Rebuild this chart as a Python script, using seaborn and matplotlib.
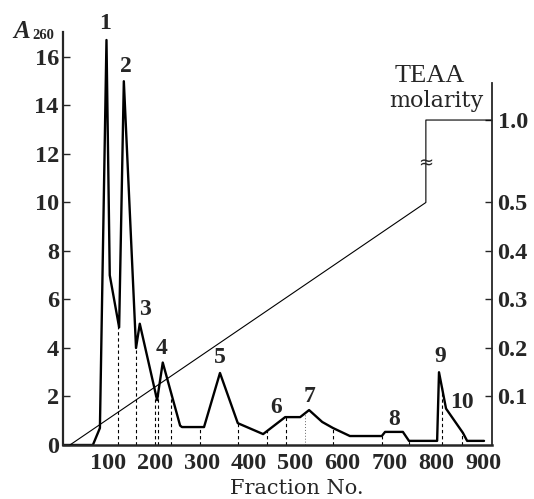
import numpy as np
import matplotlib
matplotlib.use("Agg")
import matplotlib.pyplot as plt
import seaborn as sns

# A260 elution profile
fraction = [5, 68, 83, 97, 104, 124, 134, 160, 168, 205, 217, 254, 258, 305, 339,
            377, 431, 478, 510, 529, 557, 580, 616, 684, 691, 729, 742, 802, 806,
            821, 857, 866, 902]
a260 = [0, 0, 0.7, 16.7, 7.0, 4.85, 15.0, 4.0, 5.0, 1.85, 3.4, 0.8, 0.74, 0.74, 2.97,
        0.9, 0.45, 1.15, 1.15, 1.44, 0.95, 0.7, 0.37, 0.37, 0.54, 0.54, 0.17, 0.17, 3.0,
        1.5, 0.5, 0.17, 0.17]

# pooled fraction cuts (dashed) and the faint dotted one
cuts = [122, 160, 200, 207, 235, 296, 377, 439, 480, 580, 684, 742, 812, 855]
dotted_cuts = [520]

# TEAA gradient
grad_frac = [19, 778, 778, 919]
grad_molar = [0, 0.5, 1.0, 1.0]

peak_names = ["1", "2", "3", "4", "5", "6", "7", "8", "9", "10"]
peak_label_x = [94, 139, 179, 215, 339, 458, 531, 710, 808, 855]
peak_label_y = [17.4, 15.6, 5.57, 3.96, 3.59, 1.53, 2.02, 1.07, 3.63, 1.77]

xticks = [100, 200, 300, 400, 500, 600, 700, 800, 900]
yticks = [0, 2, 4, 6, 8, 10, 12, 14, 16]
molar_ticks = [0.1, 0.2, 0.3, 0.4, 0.5, 1.0]

sns.set_style("ticks")
plt.rcParams['font.family'] = ['Liberation Serif', 'DejaVu Serif']

W, H = 534, 499
fig = plt.figure(figsize=(W / 100, H / 100), dpi=100)
ax = fig.add_axes([63 / W, 1 - 445 / H, (492 - 63) / W, (445 - 32) / H])

sns.lineplot(x=fraction, y=a260, ax=ax, sort=False, color='black', linewidth=1.7,
             estimator=None)

# dashed cut lines from baseline up to the trace
for c in cuts:
    ax.vlines(c, 0, np.interp(c, fraction, a260), colors='black',
              linestyles=(0, (3, 2.5)), linewidth=0.8)
for c in dotted_cuts:
    ax.vlines(c, 0, np.interp(c, fraction, a260), colors='0.4',
              linestyles=(0, (1, 2)), linewidth=0.7)

for name, px, py in zip(peak_names, peak_label_x, peak_label_y):
    ax.text(px, py, name, ha='center', va='center', fontsize=17,
            fontweight='bold', clip_on=False)

ax.set_xlim(4.3, 919)
ax.set_ylim(0, 17.03)
ax.set_xticks(xticks)
ax.set_yticks(yticks)
ax.tick_params(axis='y', direction='in', length=5, width=1, labelsize=17.5, pad=3)
ax.tick_params(axis='x', length=0, labelsize=17.5, pad=6)
for lab in ax.get_xticklabels() + ax.get_yticklabels():
    lab.set_fontweight('bold')
ax.spines['top'].set_visible(False)
ax.spines['right'].set_visible(False)
ax.spines['left'].set_linewidth(1.6)
ax.spines['bottom'].set_linewidth(1.8)
ax.set_xlabel('')
ax.set_ylabel('')

# right axis: molarity with a broken scale above 0.5
top_pos = 0.67


def molar_to_pos(m):
    m = np.asarray(m, dtype=float)
    return np.where(m <= 0.5, m, 0.5 + (m - 0.5) * (top_pos - 0.5) / 0.5)


ax2 = ax.twinx()
ax2.set_ylim(0, 17.03 / 20)
sns.lineplot(x=grad_frac, y=molar_to_pos(grad_molar), ax=ax2, sort=False,
             color='black', linewidth=0.8, estimator=None)
ax2.text(778, 0.58, '≈', ha='center', va='center', fontsize=13,
         family='DejaVu Sans')
ax2.set_yticks(molar_to_pos(molar_ticks))
ax2.set_yticklabels([f'{m:.1f}' for m in molar_ticks], fontweight='bold')
ax2.tick_params(axis='y', direction='in', length=5, width=1, labelsize=17.5, pad=4)
for s in ['top', 'left', 'bottom']:
    ax2.spines[s].set_visible(False)
ax2.spines['right'].set_linewidth(1.3)
ax2.spines['right'].set_bounds(0, 0.746)
ax2.set_ylabel('')

# axis titles
fig.text(13 / W, 1 - 38 / H, 'A', fontsize=18, style='italic', fontweight='bold',
         va='baseline')
fig.text(32 / W, 1 - 39 / H, '260', fontsize=10.5, fontweight='bold', va='baseline')
fig.text(430 / W, 1 - 82 / H, 'TEAA', fontsize=19, ha='center', va='baseline')
fig.text(436 / W, 1 - 107 / H, 'molarity', fontsize=16, ha='center', va='baseline',
         family='DejaVu Serif')
fig.text(297 / W, 1 - 494 / H, 'Fraction No.', fontsize=15, ha='center',
         va='baseline', family='DejaVu Serif')

fig.savefig('out.png', dpi=100)
